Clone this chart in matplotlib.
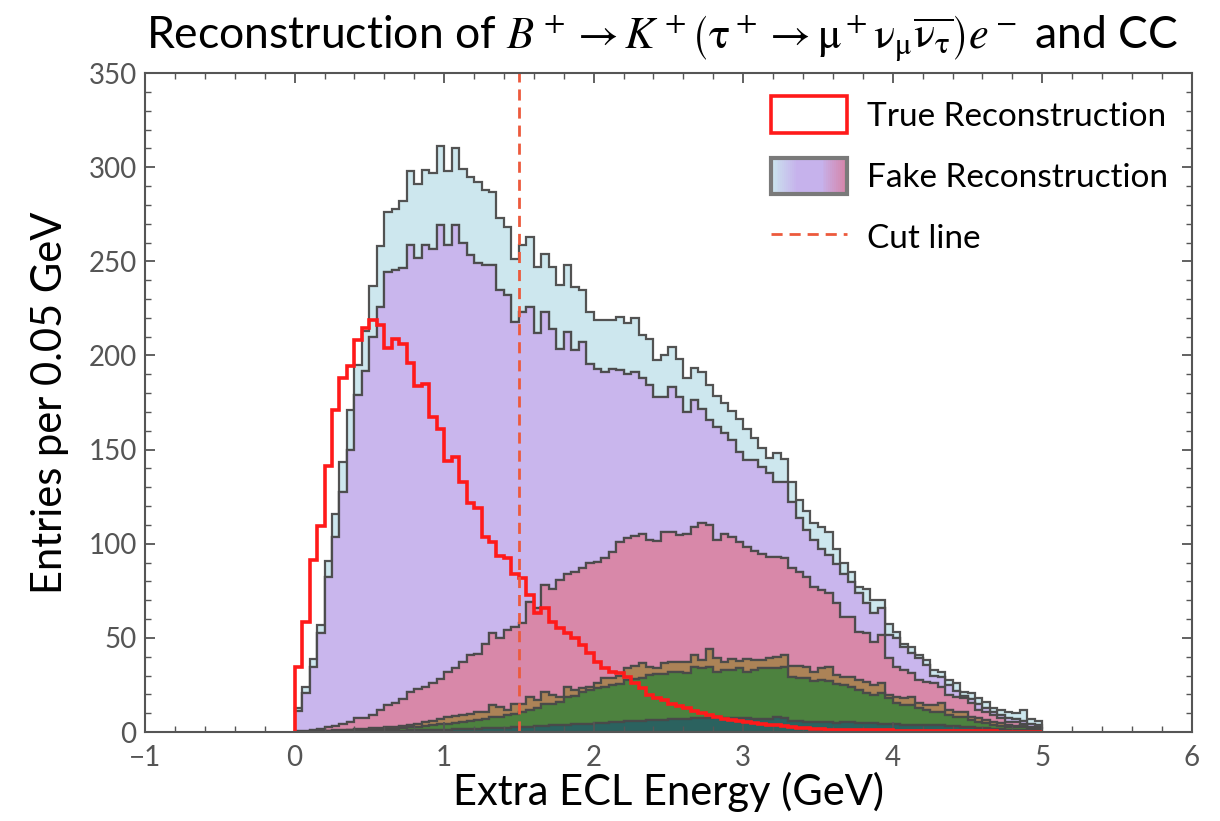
import numpy as np
import matplotlib
matplotlib.use("Agg")
import matplotlib.pyplot as plt
from matplotlib.patches import Patch, Rectangle
from matplotlib.lines import Line2D
from matplotlib.legend_handler import HandlerBase
from matplotlib.colors import LinearSegmentedColormap

plt.rcParams['font.family'] = ['Lato', 'DejaVu Sans']
plt.rcParams['mathtext.fontset'] = 'stix'

# 100 bins of 0.05 GeV between 0 and 5 GeV
edges = np.linspace(0, 5, 101)

# stack tops (cumulative, bottom layer first)
teal_top = [0, 0, 0, 0.1, 0.1, 0.1, 0.2, 0.2, 0.3, 0.3,
            0.4, 0.5, 0.5, 0.6, 0.7, 0.8, 0.9, 1, 1.1, 1.2,
            1.3, 1.4, 1.5, 1.6, 1.8, 1.9, 2, 2, 2.2, 2.4,
            2.6, 2.8, 3, 3.2, 3.5, 3.6, 3.8, 4, 4.2, 4.5,
            4.8, 5, 5.2, 5.5, 5.6, 5.8, 6, 6.2, 6.4, 6.5,
            6.8, 7, 7, 7.2, 7.3, 7.5, 7.8, 7.5, 7.4, 7.3,
            7.5, 7, 6.8, 7, 7.8, 7.3, 6, 6, 5.5, 5.5,
            5.5, 5.5, 5, 5.5, 5.3, 5, 4.8, 4.6, 4.4, 4.2,
            4, 3.8, 3.8, 3.6, 3.5, 3.5, 3.5, 3, 3, 2.5,
            2.5, 2, 2, 1.5, 1.5, 1, 1, 1, 0.8, 0.6]

green_top = [0, 0.1, 0.2, 0.3, 0.4, 0.5, 0.6, 0.8, 1, 1.1,
             1.2, 1.4, 1.6, 1.8, 2, 2.4, 2.8, 3.2, 3.6, 4,
             4.5, 5, 5.5, 6, 6.5, 7, 8, 8, 9, 9.5,
             10.5, 11.6, 12.5, 15, 15, 16, 18.7, 19, 21, 22.3,
             23.2, 24, 25, 25.5, 27.6, 28, 28.5, 30.3, 31, 31,
             32, 32, 31.1, 34.7, 33.8, 34.7, 32, 32.9, 32.9, 33.8,
             32, 32.9, 33.8, 33.8, 33.8, 34.7, 29, 28.5, 28.5, 27,
             27.5, 27, 25.5, 25, 24, 22.3, 20.5, 19.7, 20.5, 17.9,
             15.2, 14.3, 14.3, 12.6, 11.7, 10.8, 10.8, 9.1, 8.2, 8.2,
             6.4, 5.5, 4.6, 3.7, 3.2, 2.8, 2.5, 2.8, 1.9, 1.4]

brown_top = [0, 0.2, 0.3, 0.5, 0.6, 0.8, 1, 1.2, 1.5, 1.8,
             2, 2.2, 2.5, 2.8, 3.2, 3.7, 4.2, 5.3, 6, 7.1,
             8, 8.5, 8.9, 9.7, 10.6, 10.6, 14.2, 13.3, 11.5, 15,
             15, 18.7, 16.9, 21.4, 19.6, 18.7, 24, 22.3, 23.2, 24,
             25.8, 28.5, 28.5, 30, 34, 35, 36.5, 34.5, 34, 36.5,
             37.4, 37, 37.4, 40.9, 38, 44, 39.5, 37, 39, 37.5,
             39, 38, 38, 39.5, 40, 41, 35, 35, 34.7, 32,
             33.8, 34.7, 30.3, 29.4, 29.4, 27.6, 26.7, 25, 25.9, 19.7,
             18.8, 17.9, 18.8, 15.2, 14.3, 14.3, 15.2, 11.7, 10.8, 10.8,
             8.2, 7.3, 6.4, 5.5, 4.6, 3.7, 3.2, 3.7, 2.2, 1.9]

pink_top = [0.3, 0.5, 1, 1.5, 2.8, 3.2, 4.2, 5.4, 7.7, 7.7,
            9, 11.7, 14.4, 15.2, 17.4, 21.5, 22.6, 24, 25.8, 28,
            32, 33.8, 37.3, 41, 41.5, 46.5, 52.4, 50, 54, 56,
            58, 69, 66, 78, 76, 80.5, 84, 85, 87, 89.6,
            90.4, 92.2, 95.7, 101, 102.8, 104, 105.4, 101.9, 101.5, 106,
            106, 104.5, 105, 109, 110.8, 110, 102, 105, 103.7, 101,
            98.4, 96, 94.5, 93.2, 93.2, 92.2, 87, 85, 82.5, 77.2,
            75.4, 73.6, 68.3, 61.2, 61.2, 53.3, 52.4, 48, 51.5, 39.1,
            34.7, 33, 31.2, 27.6, 26.7, 25.9, 24.1, 19.7, 18.8, 17.9,
            15.2, 11.7, 10.8, 9.1, 7.3, 5.5, 5.5, 4.5, 2.8, 2.5]

purple_top = [11, 20.5, 34.6, 52.4, 82.5, 103.4, 127.6, 149.8, 179, 192,
              210, 226, 244.5, 245.4, 246.3, 258.6, 251.6, 258.6, 256.8, 269.2,
              258.6, 269.2, 259.5, 253.3, 249, 248, 248, 234.7, 232, 218,
              223.2, 225.9, 211.7, 223.2, 214.3, 203.7, 212.6, 202.8, 207.2, 195.7,
              193, 191.3, 193, 192.2, 190.4, 191.3, 187.8, 184.2, 178, 178,
              183.4, 178, 170, 176.3, 171.8, 165.6, 162, 158.6, 155, 148.8,
              144.4, 144.5, 140.9, 137.4, 132.9, 133, 122.3, 113.5, 107.3, 102,
              97, 94, 89, 84, 79.8, 73.6, 68.3, 63, 66, 51.5,
              49.7, 45.3, 41.8, 39.1, 35.6, 30, 29, 25, 22, 19,
              17.5, 15, 13, 10.5, 9, 7.5, 7, 6, 4.5, 3.5]

total_top = [12.8, 24, 39, 57, 91, 116, 143.5, 171, 195, 213,
             237, 258, 276, 278, 282, 298, 291, 298.5, 297, 311,
             298, 310, 299, 295, 292, 288, 287, 273, 268, 251,
             258.6, 263, 247, 254, 247, 237.4, 248, 236.5, 234.7, 223.2,
             218.8, 218.8, 218.8, 220.6, 217, 219.7, 210.8, 209, 197.5, 200,
             204.6, 198, 188, 193.5, 191, 184.3, 178.5, 175, 170.5, 166,
             161, 156, 150.6, 145.3, 148, 145, 133, 123.3, 117.5, 111,
             109, 106, 97, 90, 85, 77, 76, 70, 70, 57.6,
             53, 47, 45.2, 41, 38.2, 33, 32, 27.6, 25.8, 21.5,
             20.5, 18, 16, 13, 11.5, 10.5, 10, 11.5, 7, 6]

true_reco = [34.7, 58.6, 91.3, 109.4, 141.4, 171, 187.8, 194.4, 208.2, 214.7,
             218.8, 216, 204, 209, 206, 196, 184, 185, 167.5, 161,
             144, 146, 133, 121.4, 118.8, 103.5, 100.9, 93.5, 92.2, 84,
             81.6, 72.8, 63, 65.7, 58.6, 55.5, 52.4, 50, 46.2, 41.8,
             37.3, 33.8, 32, 31.2, 29.4, 25.8, 23.2, 19.6, 17.9, 17,
             15, 14, 12.5, 11, 10, 9, 8, 7, 6.5, 6,
             5.5, 5, 4, 3.5, 3.5, 3, 2.5, 2, 2, 1.5,
             1.5, 1, 1, 1, 1, 1, 0.8, 0.8, 0.8, 0.8,
             0.6, 0.6, 0.6, 0.5, 0.5, 0.5, 0.5, 0.4, 0.4, 0.4,
             0.3, 0.3, 0.3, 0.3, 0.2, 0.2, 0.2, 0.2, 0.2, 0.2]

cut_value = 1.5

layer_colors = ['#1f5a56', '#437b34', '#a87c4e', '#d682a5', '#c6b2ec', '#cbe6ee']

# turn the cumulative tops into per-layer counts
tops = np.array([teal_top, green_top, brown_top, pink_top, purple_top, total_top])
lower = np.vstack([np.zeros(100), tops[:-1]])
counts = np.clip(tops - lower, 0, None)
centers = 0.5 * (edges[:-1] + edges[1:])

fig = plt.figure(figsize=(12.2, 8.21), dpi=100)
ax = fig.add_axes([0.1189, 0.1084, 0.858, 0.8026])

ax.hist([centers] * 6, bins=edges, weights=list(counts), stacked=True,
        histtype='stepfilled', color=layer_colors, edgecolor='#4a4a4a',
        linewidth=1.6, alpha=0.95)
ax.hist(centers, bins=edges, weights=true_reco, histtype='step',
        color='#ff1a1a', linewidth=2.6)
ax.axvline(cut_value, color='#ec5a3c', linestyle=(0, (4, 2.5)), linewidth=2)

ax.set_xlim(-1, 6)
ax.set_ylim(0, 350)
ax.set_xticks(range(-1, 7))
ax.set_yticks(range(0, 351, 50))
ax.set_xticks(np.arange(-1, 6.01, 0.2), minor=True)
ax.set_yticks(range(0, 351, 10), minor=True)
ax.tick_params(which='both', direction='in', top=True, right=True,
               colors='#555555', labelsize=20)
ax.tick_params(which='major', length=7, width=1.3)
ax.tick_params(axis='x', which='major', pad=9)
ax.tick_params(axis='y', which='major', pad=6)
ax.tick_params(which='minor', length=4, width=1)
for sp in ax.spines.values():
    sp.set_color('#555555')
    sp.set_linewidth(1.5)

ax.set_xlabel('Extra ECL Energy (GeV)', fontsize=30, labelpad=1)
ax.set_ylabel('Entries per 0.05 GeV', fontsize=30, labelpad=14)
fig.text(0.543, 0.953,
         r'Reconstruction of $B^+ \rightarrow K^+\left(\mathrm{\tau}^+ \rightarrow '
         r'\mathrm{\mu}^+\mathrm{\nu}_\mathrm{\mu}\overline{\mathrm{\nu}_\mathrm{\tau}}\right)e^-$ and CC',
         ha='center', va='center', fontsize=32)


class GradientHandler(HandlerBase):
    def create_artists(self, legend, orig_handle, xdescent, ydescent,
                       width, height, fontsize, trans):
        cmap = LinearSegmentedColormap.from_list(
            'fake', ['#cbe6ee', '#c6b2ec', '#c6b2ec', '#d682a5'])
        n = 40
        arts = []
        for i in range(n):
            r = Rectangle((-xdescent + width * i / n, -ydescent), width / n + 0.3,
                          height, facecolor=cmap(i / (n - 1)), edgecolor='none',
                          transform=trans)
            arts.append(r)
        arts.append(Rectangle((-xdescent, -ydescent), width, height,
                              facecolor='none', edgecolor='#7a7a7a',
                              linewidth=3, transform=trans))
        return arts


true_handle = Patch(facecolor='white', edgecolor='#ff1a1a', linewidth=2.6)
fake_handle = object()
cut_handle = Line2D([], [], color='#ec5a3c', linestyle=(0, (4, 2.5)), linewidth=2)
ax.legend([true_handle, fake_handle, cut_handle],
          ['True Reconstruction', 'Fake Reconstruction', 'Cut line'],
          handler_map={fake_handle: GradientHandler()},
          loc='upper right', frameon=False, fontsize=24,
          handlelength=2.3, handleheight=1.3, labelspacing=0.75,
          handletextpad=0.6, borderaxespad=0.3)

fig.savefig('out.png', dpi=100)
